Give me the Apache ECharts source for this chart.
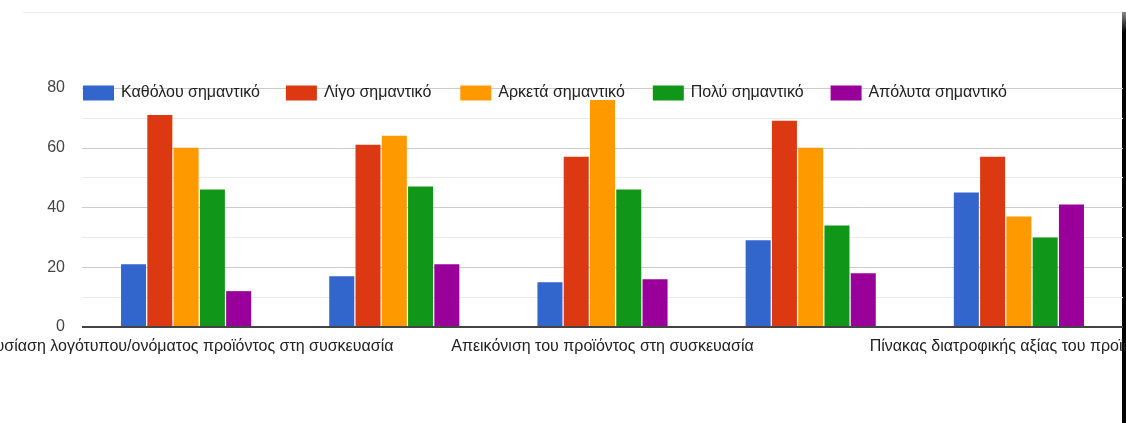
<!DOCTYPE html>
<html>
<head>
<meta charset="utf-8">
<script src="https://cdn.jsdelivr.net/npm/echarts@6/dist/echarts.min.js"></script>
<style>
  html, body { margin: 0; padding: 0; background: #fff; }
  #chart { width: 1126px; height: 423px; }
</style>
</head>
<body>
<div id="chart"></div>
<script>
// Survey answers: how important each packaging element is
const categories = [
  'Παρουσίαση λογότυπου/ονόματος προϊόντος στη συσκευασία',
  'Χρώματα της συσκευασίας',
  'Απεικόνιση του προϊόντος στη συσκευασία',
  'Υλικό της συσκευασίας',
  'Πίνακας διατροφικής αξίας του προϊόντος'
];
const seriesNames = [
  'Καθόλου σημαντικό',
  'Λίγο σημαντικό',
  'Αρκετά σημαντικό',
  'Πολύ σημαντικό',
  'Απόλυτα σημαντικό'
];
const notImportant       = [21, 17, 15, 29, 45];
const slightlyImportant  = [71, 61, 57, 69, 57];
const fairlyImportant    = [60, 64, 76, 60, 37];
const veryImportant      = [46, 47, 46, 34, 30];
const extremelyImportant = [12, 21, 16, 18, 41];
const yTicks = [0, 20, 40, 60, 80];

const palette = ['#3366cc', '#dc3912', '#ff9900', '#109618', '#990099'];
const values = [notImportant, slightlyImportant, fairlyImportant, veryImportant, extremelyImportant];

// small per-label/legend nudges for spacing
const labelPadRight = [22, 0, 0, 0, 6];
const legendPadRight = [0, 3, 2, 1, 0];

const chart = echarts.init(document.getElementById('chart'), null, { renderer: 'canvas' });

const font = '"Liberation Sans", Arial, sans-serif';

chart.setOption({
  animation: false,
  color: palette,
  textStyle: { fontFamily: font },
  legend: {
    left: 83,
    top: 85,
    padding: 0,
    itemWidth: 31,
    itemHeight: 15,
    itemGap: 26,
    icon: 'rect',
    textStyle: { fontSize: 16, color: '#222', fontFamily: font, padding: [0, 0, 0, 2], lineHeight: 15 },
    data: seriesNames.map((name, i) => ({
      name: name,
      textStyle: { padding: [0, legendPadRight[i], 0, 2] }
    }))
  },
  grid: { left: 82, right: 3, top: 88, height: 239, containLabel: false, outerBoundsMode: 'none' },
  xAxis: {
    type: 'category',
    data: categories.map((c, i) => ({
      value: c,
      textStyle: { padding: [0, labelPadRight[i], 0, 0] }
    })),
    axisTick: { show: false },
    axisLine: { show: false },
    axisLabel: {
      interval: 1,
      hideOverlap: false,
      fontSize: 16,
      color: '#222',
      fontFamily: font,
      margin: 12
    }
  },
  yAxis: {
    type: 'value',
    min: yTicks[0],
    max: yTicks[yTicks.length - 1],
    interval: 20,
    axisLine: { show: false },
    axisTick: { show: false },
    axisLabel: { fontSize: 16, color: '#444', fontFamily: font, margin: 17 },
    splitLine: { lineStyle: { color: '#cccccc', width: 1 } },
    minorTick: { show: false, splitNumber: 2 },
    minorSplitLine: { show: true, lineStyle: { color: '#ebebeb', width: 1 } }
  },
  series: seriesNames.map((name, i) => ({
    name: name,
    type: 'bar',
    data: values[i],
    barCategoryGap: '37.5%',
    barGap: '5%',
    itemStyle: { color: palette[i] },
    markLine: i === 0 ? {
      silent: true,
      symbol: 'none',
      label: { show: false },
      lineStyle: { color: '#444', width: 2, type: 'solid' },
      data: [{ yAxis: 0 }]
    } : undefined
  })),
  graphic: [
    // faint frame edge along the top
    { type: 'line', shape: { x1: 23, y1: 12.5, x2: 1123, y2: 12.5 }, style: { stroke: '#efefef', lineWidth: 1 }, silent: true },
    // dark edge on the right
    {
      type: 'rect', shape: { x: 1122, y: 12, width: 4, height: 411 },
      style: {
        fill: new echarts.graphic.LinearGradient(0, 0, 0, 1, [
          { offset: 0, color: '#888' },
          { offset: 0.05, color: '#000' },
          { offset: 1, color: '#000' }
        ])
      },
      silent: true
    }
  ]
});
</script>
</body>
</html>
